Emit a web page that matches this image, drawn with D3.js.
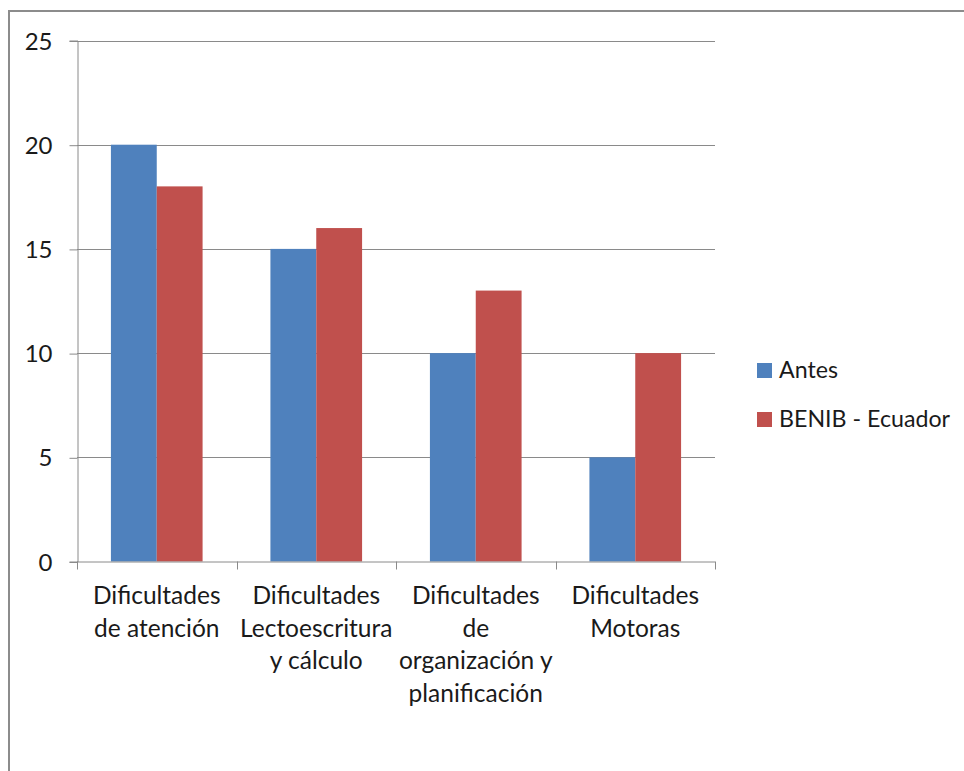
<!DOCTYPE html>
<html>
<head>
<meta charset="utf-8">
<script src="https://cdn.jsdelivr.net/npm/d3@7"></script>
<style>
  html, body { margin: 0; padding: 0; background: #fff; }
  svg { display: block; }
  text { font-family: Lato, "Open Sans", sans-serif; fill: #1a1a1a; }
</style>
</head>
<body>
<script>
// Category labels (already broken into lines as they appear under the axis)
const categories = [
  ["Dificultades", "de atención"],
  ["Dificultades", "Lectoescritura", "y cálculo"],
  ["Dificultades", "de", "organización y", "planificación"],
  ["Dificultades", "Motoras"]
];
const seriesNames = ["Antes", "BENIB - Ecuador"];
const antes = [20, 15, 10, 5];
const benib = [18, 16, 13, 10];
const yTicks = [0, 5, 10, 15, 20, 25];
const colors = ["#4F81BD", "#C0504D"];

const W = 964, H = 771;
const svg = d3.select("body").append("svg").attr("width", W).attr("height", H);

// outer chart frame
svg.append("rect")
  .attr("x", 9).attr("y", 11).attr("width", 990).attr("height", 800)
  .attr("fill", "none").attr("stroke", "#8c8c8c").attr("stroke-width", 2);

const plot = { left: 77, right: 715, top: 40.5, bottom: 561.5 };

const x0 = d3.scaleBand()
  .domain(d3.range(categories.length))
  .range([plot.left, plot.right])
  .paddingInner(0).paddingOuter(0);

const x1 = d3.scaleBand()
  .domain([0, 1])
  .range([0, x0.bandwidth()])
  .paddingInner(0)
  .paddingOuter(0.74);

const y = d3.scaleLinear().domain([0, 25]).range([plot.bottom, plot.top]);

// horizontal gridlines
svg.append("g").selectAll("line")
  .data(yTicks.filter(t => t > 0))
  .join("line")
  .attr("x1", plot.left).attr("x2", plot.right)
  .attr("y1", d => Math.round(y(d)) + 0.5).attr("y2", d => Math.round(y(d)) + 0.5)
  .attr("stroke", "#8a8a8a").attr("stroke-width", 1);

// y axis
const yAxis = d3.axisLeft(y).tickValues(yTicks).tickSize(8).tickPadding(17)
  .tickFormat(d3.format("d"));
const gy = svg.append("g").attr("transform", `translate(${plot.left + 0.5},0)`).call(yAxis);
gy.select(".domain").attr("stroke", "#8a8a8a");
gy.selectAll(".tick line").attr("stroke", "#8a8a8a")
  .attr("transform", "translate(0,0.5)");
gy.selectAll(".tick text")
  .attr("font-size", 24).attr("font-family", "Lato, sans-serif").attr("fill", "#1a1a1a")
  .attr("dy", "0.36em");

// bars
const groups = svg.append("g").selectAll("g")
  .data(categories.map((c, i) => ({ i, vals: [antes[i], benib[i]] })))
  .join("g")
  .attr("transform", d => `translate(${x0(d.i)},0)`);

groups.selectAll("rect")
  .data(d => d.vals.map((v, s) => ({ v, s })))
  .join("rect")
  .attr("x", d => x1(d.s))
  .attr("width", x1.bandwidth())
  .attr("y", d => y(d.v))
  .attr("height", d => y(0) - y(d.v))
  .attr("fill", d => colors[d.s]);

// x axis
const xAxisLine = svg.append("g");
xAxisLine.append("line")
  .attr("x1", plot.left).attr("x2", plot.right)
  .attr("y1", plot.bottom + 0.5).attr("y2", plot.bottom + 0.5)
  .attr("stroke", "#8a8a8a");
xAxisLine.selectAll("line.tk")
  .data(d3.range(categories.length + 1))
  .join("line").attr("class", "tk")
  .attr("x1", d => Math.round(plot.left + d * x0.bandwidth()) + 0.5)
  .attr("x2", d => Math.round(plot.left + d * x0.bandwidth()) + 0.5)
  .attr("y1", plot.bottom).attr("y2", plot.bottom + 8)
  .attr("stroke", "#8a8a8a");

// category labels
const labels = svg.append("g").selectAll("text")
  .data(categories.map((c, i) => ({ c, i })))
  .join("text")
  .attr("text-anchor", "middle")
  .attr("font-size", 24.5)
  .attr("x", d => x0(d.i) + x0.bandwidth() / 2)
  .attr("y", 604);
labels.selectAll("tspan")
  .data(d => d.c.map((line, k) => ({ line, k, x: x0(d.i) + x0.bandwidth() / 2 })))
  .join("tspan")
  .attr("x", d => d.x)
  .attr("dy", d => d.k === 0 ? 0 : 32.5)
  .text(d => d.line);

// legend
const legend = svg.append("g").selectAll("g")
  .data(seriesNames)
  .join("g")
  .attr("transform", (d, i) => `translate(757,${363 + i * 49})`);
legend.append("rect")
  .attr("width", 15).attr("height", 15)
  .attr("fill", (d, i) => colors[i]);
legend.append("text")
  .attr("x", 22).attr("y", 15)
  .attr("font-size", 23.2)
  .text(d => d);
</script>
</body>
</html>
